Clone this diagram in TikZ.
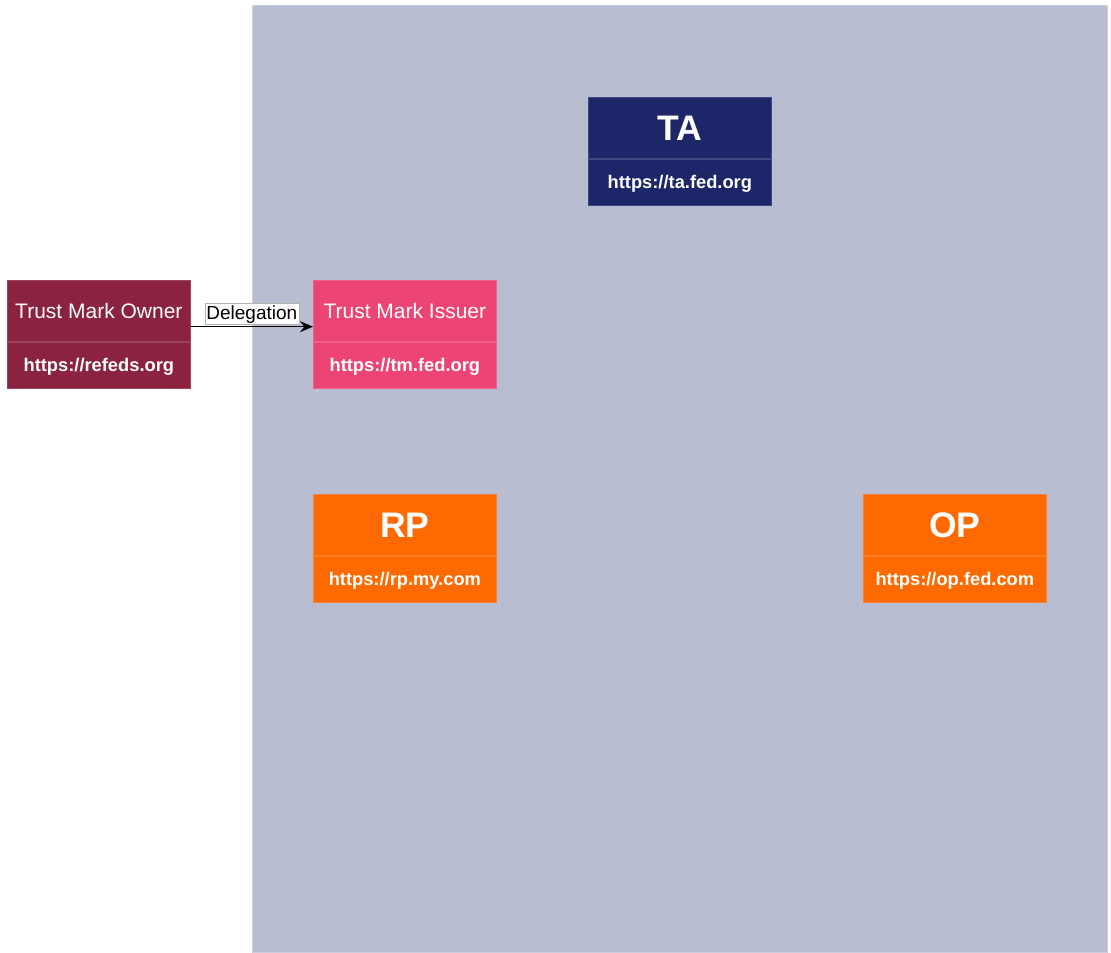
\documentclass[tikz,border=0pt]{standalone}
\usepackage{fontspec}
\setmainfont{Liberation Sans}
\usetikzlibrary{arrows.meta}

\definecolor{zone}{HTML}{B8BDD2}
\definecolor{anchorblue}{HTML}{1D2668}
\definecolor{ownerred}{HTML}{8B2340}
\definecolor{issuerpink}{HTML}{EC4574}
\definecolor{partyorange}{HTML}{FF6A00}

\tikzset{
  head/.style={rectangle, fill=#1, draw=#1!85!white, line width=0.7pt,
    minimum width=183pt, minimum height=61pt, inner sep=0pt,
    text=white, anchor=north west},
  foot/.style={rectangle, fill=#1, draw=#1!85!white, line width=0.7pt,
    minimum width=183pt, minimum height=46pt, inner sep=0pt,
    text=white, anchor=north, text height=13.5pt, text depth=0pt,
    font=\fontsize{18.3}{21}\selectfont\bfseries},
  bigtitle/.style={font=\fontsize{35.5}{40}\selectfont\bfseries},
  smalltitle/.style={font=\fontsize{21}{25}\selectfont},
  flowlabel/.style={fill=white, draw=gray!60, line width=0.5pt,
    inner xsep=1.5pt, inner ysep=1.5pt, text=black,
    font=\fontsize{19}{22}\selectfont},
  flow/.style={-{Stealth[length=13pt,width=11pt]}, line width=1.4pt, black},
}

\begin{document}
\begin{tikzpicture}[x=1pt, y=-1pt]
  \useasboundingbox (0,0) rectangle (1111,953);

  % federation area
  \fill[zone] (252,5) rectangle (1107,952);
  \draw[zone!75!white, line width=1pt] (252,5) rectangle (1107,952);

  % trust anchor
  \node[head=anchorblue, bigtitle] (ta) at (588,97) {TA};
  \node[foot=anchorblue] (ta-url) at (ta.south) {https://ta.fed.org};

  % trust mark owner (outside the federation)
  \node[head=ownerred, smalltitle] (tmo) at (7,280) {Trust Mark Owner};
  \node[foot=ownerred] (tmo-url) at (tmo.south) {https://refeds.org};

  % trust mark issuer
  \node[head=issuerpink, smalltitle] (tmi) at (313,280) {Trust Mark Issuer};
  \node[foot=issuerpink] (tmi-url) at (tmi.south) {https://tm.fed.org};

  % relying party
  \node[head=partyorange, bigtitle] (rp) at (313,494) {RP};
  \node[foot=partyorange] (rp-url) at (rp.south) {https://rp.my.com};

  % openid provider
  \node[head=partyorange, bigtitle] (op) at (863,494) {OP};
  \node[foot=partyorange] (op-url) at (op.south) {https://op.fed.com};

  % delegation from owner to issuer
  \draw[flow] ([yshift=15pt]tmo.south east) -- ([yshift=15pt]tmi.south west)
    node[midway, above=2pt, flowlabel] (deleg) {Delegation};
\end{tikzpicture}
\end{document}
